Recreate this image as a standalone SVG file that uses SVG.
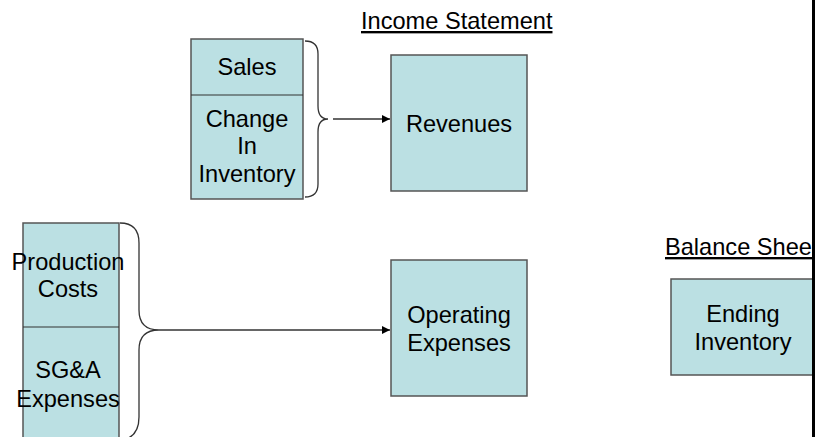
<svg xmlns="http://www.w3.org/2000/svg" width="815" height="437" viewBox="0 0 815 437">
  <style>
    .box { fill: #bbe0e3; stroke: #555555; stroke-width: 1.5; }
    .div { stroke: #333333; stroke-width: 1.2; fill: none; }
    .lbl { font-family: "Liberation Sans", Arial, sans-serif; font-size: 23.6px; fill: #000000; text-anchor: middle; }
    .hdr { font-family: "Liberation Sans", Arial, sans-serif; font-size: 23.6px; fill: #000000; text-decoration: underline; }
    .brace { fill: none; stroke: #333333; stroke-width: 1.3; }
    .conn { stroke: #333333; stroke-width: 1.3; fill: none; marker-end: url(#arrow); }
  </style>
  <defs>
    <marker id="arrow" viewBox="0 0 10 10" refX="10" refY="5" markerWidth="8" markerHeight="8" markerUnits="userSpaceOnUse" orient="auto">
      <path d="M0,0 L10,5 L0,10 z" fill="#000000"/>
    </marker>
  </defs>
  <rect width="815" height="437" fill="#ffffff"/>

  <!-- headings -->
  <g id="income-statement-title">
    <text class="hdr" x="361" y="29">Income Statement</text>
  </g>
  <g id="balance-sheet-title">
    <text class="hdr" x="665" y="255">Balance Sheet</text>
  </g>

  <!-- revenue inputs -->
  <g id="sales-change">
    <rect class="box" x="191" y="39" width="112" height="160"/>
    <line class="div" x1="191" y1="95" x2="303" y2="95"/>
    <text class="lbl" x="247" y="75">Sales</text>
    <text class="lbl" x="247" y="127">Change</text>
    <text class="lbl" x="247" y="154">In</text>
    <text class="lbl" x="247" y="182">Inventory</text>
  </g>

  <g id="revenues">
    <rect class="box" x="391" y="55" width="136" height="136"/>
    <text class="lbl" x="459" y="132">Revenues</text>
  </g>

  <!-- expense inputs -->
  <g id="costs">
    <rect class="box" x="23" y="223" width="96" height="230"/>
    <line class="div" x1="23" y1="327" x2="119" y2="327"/>
    <text class="lbl" x="68" y="270">Production</text>
    <text class="lbl" x="68" y="297">Costs</text>
    <text class="lbl" x="68" y="378">SG&amp;A</text>
    <text class="lbl" x="68" y="407">Expenses</text>
  </g>

  <g id="operating-expenses">
    <rect class="box" x="391" y="260" width="136" height="136"/>
    <text class="lbl" x="459" y="323">Operating</text>
    <text class="lbl" x="459" y="351">Expenses</text>
  </g>

  <g id="ending-inventory">
    <rect class="box" x="671" y="279" width="150" height="96"/>
    <text class="lbl" x="743" y="322">Ending</text>
    <text class="lbl" x="743" y="350">Inventory</text>
  </g>

  <!-- page edge -->
  <rect x="812" y="0" width="3" height="437" fill="#000000"/>

  <g id="connectors">
    <path class="brace" d="M305,41 Q318,41 318,54 L318,106 Q318,119 328,119 Q318,119 318,132 L318,184 Q318,197 305,197"/>
    <line class="conn" x1="333" y1="119" x2="390" y2="119"/>
    <path class="brace" d="M120,223 Q139,223 139,243 L139,310 Q139,330 159,330 Q139,330 139,350 L139,417 Q139,437 122,440"/>
    <line class="conn" x1="159" y1="330" x2="390" y2="330"/>
  </g>
</svg>
